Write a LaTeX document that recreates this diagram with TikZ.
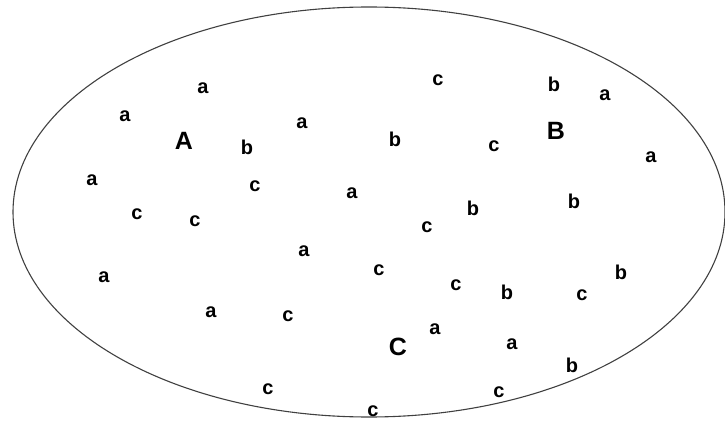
\documentclass[tikz,border=0pt]{standalone}
\usepackage{fontspec}
\setmainfont{Liberation Sans}
\newcommand{\lfont}{\fontsize{20pt}{20pt}\selectfont\bfseries}
\newcommand{\cfont}{\fontsize{25pt}{25pt}\selectfont\bfseries}
\begin{document}
\begin{tikzpicture}[x=1pt,y=-1pt,
  lt/.style={font=\lfont, inner sep=0pt},
  bigletter/.style={font=\cfont, inner sep=0pt}]
\useasboundingbox (0,0) rectangle (725,422);
\draw[line width=1.1pt, black!75] (369,212) ellipse [x radius=356, y radius=205];
\node[bigletter] (A) at (184,141) {A};
\node[bigletter] (B) at (556,131) {B};
\node[bigletter] (C) at (398,347) {C};
\node[lt] (l1) at (203,88) {a};
\node[lt] (l2) at (125,116) {a};
\node[lt] (l3) at (247,147) {b};
\node[lt] (l4) at (302,123) {a};
\node[lt] (l5) at (438,80) {c};
\node[lt] (l6) at (554,84) {b};
\node[lt] (l7) at (605,95) {a};
\node[lt] (l8) at (395,139) {b};
\node[lt] (l9) at (494,146) {c};
\node[lt] (l10) at (651,157) {a};
\node[lt] (l11) at (92,180) {a};
\node[lt] (l12) at (255,186) {c};
\node[lt] (l13) at (352,193) {a};
\node[lt] (l14) at (137,214) {c};
\node[lt] (l15) at (195,221) {c};
\node[lt] (l16) at (473,208) {b};
\node[lt] (l17) at (574,201) {b};
\node[lt] (l18) at (427,227) {c};
\node[lt] (l19) at (304,251) {a};
\node[lt] (l20) at (104,277) {a};
\node[lt] (l21) at (379,270) {c};
\node[lt] (l22) at (456,285) {c};
\node[lt] (l23) at (507,292) {b};
\node[lt] (l24) at (582,295) {c};
\node[lt] (l25) at (621,272) {b};
\node[lt] (l26) at (211,312) {a};
\node[lt] (l27) at (288,316) {c};
\node[lt] (l28) at (435,329) {a};
\node[lt] (l29) at (512,344) {a};
\node[lt] (l30) at (572,365) {b};
\node[lt] (l31) at (268,389) {c};
\node[lt] (l32) at (499,392) {c};
\node[lt] (l33) at (373,411) {c};
\end{tikzpicture}
\end{document}
